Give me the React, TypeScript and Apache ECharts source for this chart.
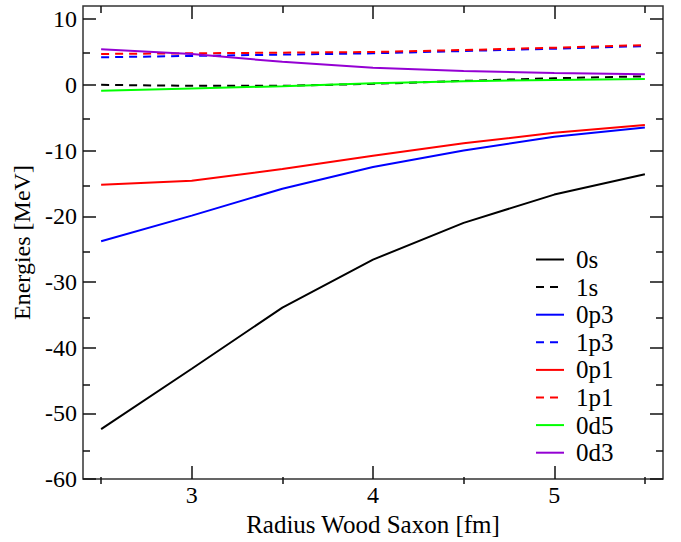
import React, { useEffect, useRef } from "react";
import * as echarts from "echarts";

const radii = [2.5, 3.0, 3.5, 4.0, 4.5, 5.0, 5.5];

const s0s = [-52.4, -43.2, -33.9, -26.6, -21.0, -16.7, -13.6];
const s1s = [0.0, -0.15, -0.15, 0.15, 0.6, 1.0, 1.3];
const s0p3 = [-23.8, -19.9, -15.8, -12.5, -10.0, -7.9, -6.5];
const s1p3 = [4.2, 4.4, 4.6, 4.8, 5.15, 5.5, 5.9];
const s0p1 = [-15.2, -14.6, -12.8, -10.8, -8.9, -7.3, -6.1];
const s1p1 = [4.7, 4.8, 4.9, 5.0, 5.3, 5.65, 6.05];
const s0d5 = [-0.9, -0.55, -0.2, 0.25, 0.55, 0.75, 0.9];
const s0d3 = [5.4, 4.7, 3.5, 2.6, 2.1, 1.8, 1.6];

const seriesNames = ["0s", "1s", "0p3", "1p3", "0p1", "1p1", "0d5", "0d3"];
const seriesValues = [s0s, s1s, s0p3, s1p3, s0p1, s1p1, s0d5, s0d3];
const seriesColors = ["#000000", "#000000", "#0000ff", "#0000ff", "#ff0000", "#ff0000", "#00ff00", "#9400d3"];
const seriesDashed = [false, true, false, true, false, true, false, false];

const xMajor = [3, 4, 5];
const xMinor = [2.5, 3.5, 4.5, 5.5];
const yMajor = [-60, -50, -40, -30, -20, -10, 0, 10];
const yMinor = [-55, -45, -35, -25, -15, -5, 5];

const X_MIN = 2.4;
const X_MAX = 5.6;
const Y_MIN = -60;
const Y_MAX = 12;

const FONT = "Liberation Serif, serif";

export default function App() {
  const ref = useRef<HTMLDivElement>(null);

  useEffect(() => {
    if (!ref.current) return;
    const chart = echarts.init(ref.current, undefined, { renderer: "svg" });

    const tickColor = "#111";
    const mkX = (gridIndex: number, position: string, ticks: number[], len: number, labels: boolean, name?: string) => ({
      type: "value",
      gridIndex,
      position,
      min: X_MIN,
      max: X_MAX,
      name: name || "",
      nameLocation: "middle",
      nameGap: 27,
      nameTextStyle: { fontFamily: FONT, fontSize: 25, color: "#000" },
      axisLine: { show: false, onZero: false },
      splitLine: { show: false },
      axisTick: { show: true, inside: true, length: len, customValues: ticks, lineStyle: { color: tickColor, width: 1.5 } },
      axisLabel: labels
        ? { show: true, customValues: ticks, fontFamily: FONT, fontSize: 24, color: "#000", margin: 4 }
        : { show: false },
    });
    const mkY = (gridIndex: number, position: string, ticks: number[], len: number, labels: boolean, name?: string) => ({
      type: "value",
      gridIndex,
      position,
      min: Y_MIN,
      max: Y_MAX,
      name: name || "",
      nameLocation: "middle",
      nameGap: 46,
      nameTextStyle: { fontFamily: FONT, fontSize: 24, color: "#000" },
      axisLine: { show: false, onZero: false },
      splitLine: { show: false },
      axisTick: { show: true, inside: true, length: len, customValues: ticks, lineStyle: { color: tickColor, width: 1.5 } },
      axisLabel: labels
        ? { show: true, customValues: ticks, fontFamily: FONT, fontSize: 24, color: "#000", margin: 6 }
        : { show: false },
    });

    const gridBox = { left: 83, right: 18, top: 6, bottom: 58 };

    const option: any = {
      animation: false,
      backgroundColor: "#ffffff",
      textStyle: { fontFamily: FONT },
      grid: [
        { ...gridBox, show: true, borderColor: "#333", borderWidth: 1.5, backgroundColor: "transparent" },
        { ...gridBox, show: false },
      ],
      legend: {
        orient: "vertical",
        left: 535,
        top: 247,
        padding: 0,
        itemWidth: 28,
        itemHeight: 14,
        itemGap: 2.6,
        data: seriesNames,
        itemStyle: { opacity: 0, borderWidth: 0 },
        lineStyle: { width: 2 },
        textStyle: { fontFamily: FONT, fontSize: 25, color: "#000", lineHeight: 24, padding: [0, 0, 0, 7] },
      },
      xAxis: [
        mkX(0, "bottom", xMajor, 13, true, "Radius Wood Saxon [fm]"),
        mkX(0, "top", xMajor, 13, false),
        mkX(1, "bottom", xMinor, 7, false),
        mkX(1, "top", xMinor, 7, false),
      ],
      yAxis: [
        mkY(0, "left", yMajor, 13, true, "Energies [MeV]"),
        mkY(0, "right", yMajor, 13, false),
        mkY(1, "left", yMinor, 7, false),
        mkY(1, "right", yMinor, 7, false),
      ],
      series: seriesNames.map((name, i) => ({
        name,
        type: "line",
        xAxisIndex: 0,
        yAxisIndex: 0,
        symbol: "none",
        showSymbol: false,
        smooth: false,
        data: radii.map((r, j) => [r, seriesValues[i][j]]),
        lineStyle: {
          color: seriesColors[i],
          width: 2,
          type: seriesDashed[i] ? [8, 6] : "solid",
        },
        itemStyle: { color: seriesColors[i] },
      })),
    };

    chart.setOption(option);
    return () => chart.dispose();
  }, []);

  return <div ref={ref} style={{ width: 681, height: 542, position: "absolute", left: 0, top: 0 }} />;
}
